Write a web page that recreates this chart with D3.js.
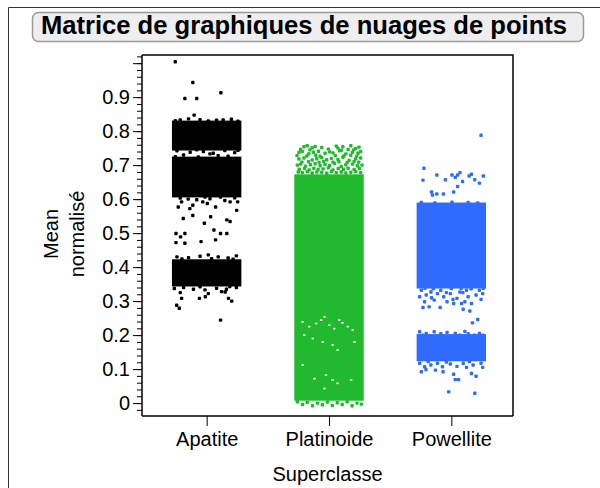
<!DOCTYPE html>
<html>
<head>
<meta charset="utf-8">
<script src="https://cdn.jsdelivr.net/npm/d3@7"></script>
<style>
  html, body { margin: 0; padding: 0; background: #fff; }
  svg { display: block; font-family: "Liberation Sans", Arial, sans-serif; }
</style>
</head>
<body>
<svg id="chart" width="600" height="488"></svg>
<script>
// ---------------- data ----------------
const categories = ["Apatite", "Platinoide", "Powellite"];
const yTickLabels = ["0", "0.1", "0.2", "0.3", "0.4", "0.5", "0.6", "0.7", "0.8", "0.9"];
const yMajorTicks = [0, 0.1, 0.2, 0.3, 0.4, 0.5, 0.6, 0.7, 0.8, 0.9, 1.0];
const title = "Matrice de graphiques de nuages de points";
const xTitle = "Superclasse";
const yTitle = ["Mean", "normalisé"];

// dense (saturated) value ranges per category: [low, high]
const apatiteBands = [[0.748, 0.826], [0.61, 0.72], [0.348, 0.418]];
const platinoideBands = [[0.012, 0.668]];
const powelliteBands = [[0.342, 0.585], [0.128, 0.198]];

// individual sparse points: [value, jitter (-1..1)]
const apatitePoints = [
  [1.004, -0.95], [0.943, -0.42], [0.913, 0.43], [0.896, -0.66], [0.896, -0.3], [0.847, -0.38],
  [0.833, -0.8], [0.834, -0.2], [0.832, 0.3], [0.835, 0.75], [0.831, -0.95], [0.836, -0.55],
  [0.830, 0.05], [0.833, 0.5], [0.829, 0.95],
  [0.742, -0.9], [0.738, -0.5], [0.740, -0.1], [0.735, 0.2], [0.743, 0.55], [0.737, 0.85],
  [0.730, -0.7], [0.728, 0.35], [0.733, 0.1], [0.745, -0.3], [0.744, 0.95],
  [0.725, -0.95], [0.724, -0.25], [0.726, 0.65],
  [0.603, -0.8], [0.598, -0.3], [0.601, 0.1], [0.596, 0.55], [0.604, 0.85], [0.606, -0.05],
  [0.612, -0.96], [0.592, -0.76], [0.600, -0.56], [0.582, -0.42], [0.592, -0.12], [0.587, 0.02],
  [0.577, 0.27], [0.606, 0.42], [0.592, 0.71], [0.592, 0.94], [0.577, -0.86], [0.572, -0.51],
  [0.543, -0.71], [0.552, -0.42], [0.529, -0.07], [0.548, 0.12], [0.539, 0.61], [0.534, 0.71],
  [0.567, 0.91], [0.499, -0.93], [0.489, -0.79], [0.499, -0.66], [0.475, -0.17], [0.509, 0.22],
  [0.480, 0.27], [0.499, 0.42], [0.499, 0.61], [0.472, -0.93], [0.470, -0.66],
  [0.430, -0.9], [0.428, -0.55], [0.432, -0.2], [0.436, 0.05], [0.430, 0.35], [0.427, 0.65], [0.433, 0.9],
  [0.424, -0.75], [0.425, 0.15], [0.423, 0.8],
  [0.337, -0.98], [0.340, -0.7], [0.335, -0.4], [0.333, -0.05], [0.338, 0.3], [0.335, 0.6], [0.340, 0.9],
  [0.325, -0.8], [0.322, 0.05], [0.328, 0.45], [0.342, -0.2], [0.343, 0.7],
  [0.308, -0.76], [0.279, -0.83], [0.308, -0.22], [0.313, -0.04], [0.308, 0.66], [0.300, 0.76],
  [0.244, 0.42], [0.288, -0.91], [0.327, 0.56]
];
const platinoidePoints = [
  [0.754, -0.76], [0.757, -0.66], [0.751, -0.51], [0.755, -0.42], [0.752, -0.22], [0.756, 0.22],
  [0.750, 0.27], [0.754, 0.42], [0.757, 0.66], [0.749, 0.81], [0.753, 0.91],
  [0.746, -0.86], [0.745, -0.58], [0.747, -0.02], [0.744, 0.37], [0.746, 0.58], [0.745, 0.75],
  [0.737, -0.91], [0.740, -0.81], [0.734, -0.61], [0.738, -0.47], [0.741, -0.32], [0.735, -0.12],
  [0.739, 0.02], [0.736, 0.12], [0.742, 0.32], [0.733, 0.51], [0.738, 0.71], [0.735, 0.88], [0.740, 0.96],
  [0.728, -0.97], [0.727, -0.67], [0.729, -0.4], [0.726, -0.27], [0.728, 0.19], [0.727, 0.45],
  [0.729, 0.66], [0.726, 0.84],
  [0.718, -0.91], [0.721, -0.76], [0.715, -0.51], [0.719, -0.37], [0.722, -0.22], [0.716, -0.07],
  [0.720, 0.07], [0.717, 0.27], [0.723, 0.42], [0.714, 0.61], [0.719, 0.81], [0.721, 0.96],
  [0.709, -0.82], [0.710, -0.62], [0.708, -0.3], [0.711, -0.16], [0.709, 0.12], [0.710, 0.3],
  [0.708, 0.55], [0.711, 0.76], [0.709, 0.9],
  [0.700, -0.96], [0.703, -0.86], [0.697, -0.71], [0.701, -0.56], [0.704, -0.42], [0.698, -0.27],
  [0.702, -0.12], [0.699, 0.02], [0.705, 0.17], [0.696, 0.37], [0.701, 0.51], [0.703, 0.71],
  [0.698, 0.86], [0.700, 1.0],
  [0.688, -0.9], [0.690, -0.74], [0.686, -0.6], [0.691, -0.46], [0.687, -0.33], [0.689, -0.18],
  [0.692, -0.02], [0.686, 0.12], [0.690, 0.28], [0.688, 0.44], [0.691, 0.58], [0.687, 0.76], [0.690, 0.92],
  [0.680, -0.93], [0.678, -0.81], [0.681, -0.66], [0.677, -0.51], [0.680, -0.37], [0.679, -0.22],
  [0.676, -0.07], [0.681, 0.07], [0.678, 0.22], [0.680, 0.37], [0.677, 0.51], [0.679, 0.66],
  [0.681, 0.81], [0.678, 0.96],
  [0.004, -0.96], [-0.004, -0.8], [0.002, -0.66], [-0.008, -0.5], [0.0, -0.35], [-0.005, -0.2],
  [0.003, -0.05], [-0.007, 0.1], [0.001, 0.25], [-0.004, 0.4], [0.004, 0.55], [-0.008, 0.7],
  [0.0, 0.85], [-0.003, 0.98]
];
// empty specks inside the dense Platinoide column: [value, jitter]
const platinoideGaps = [
  [0.239, -0.8], [0.225, -0.6], [0.234, -0.39], [0.244, -0.24], [0.254, -0.14], [0.229, 0.01],
  [0.219, 0.16], [0.244, 0.31], [0.236, 0.41], [0.225, 0.57], [0.215, 0.72], [0.200, -0.75],
  [0.190, -0.49], [0.180, -0.19], [0.171, 0.11], [0.156, 0.26], [0.180, 0.77], [0.112, -0.8],
  [0.072, -0.44], [0.082, -0.09], [0.068, 0.11], [0.068, 0.67], [0.043, -0.14], [0.058, 0.26]
];
const powellitePoints = [
  [0.788, 0.90], [0.691, -0.83], [0.656, -0.86], [0.671, -0.44], [0.657, -0.18], [0.671, 0.02],
  [0.664, 0.12], [0.671, 0.19], [0.678, 0.26], [0.652, 0.34], [0.637, 0.19], [0.668, 0.54],
  [0.673, 0.61], [0.657, 0.71], [0.647, 0.85], [0.668, 0.97],
  [0.621, -0.60], [0.612, -0.57], [0.615, -0.44], [0.615, -0.24], [0.621, 0.07],
  [0.590, -0.91], [0.589, -0.5], [0.591, 0.02], [0.590, 0.51], [0.589, 0.8],
  [0.332, -0.91], [0.318, -0.76], [0.327, -0.62], [0.303, -0.52], [0.313, -0.23], [0.322, -0.03],
  [0.308, 0.17], [0.327, 0.26], [0.298, 0.41], [0.313, 0.51], [0.293, 0.61], [0.318, 0.75],
  [0.305, 0.90], [0.298, -0.81], [0.332, -0.32], [0.293, 0.07], [0.332, 0.85], [0.313, -0.96],
  [0.298, -0.13], [0.293, 0.31], [0.332, 0.46], [0.322, 0.95], [0.322, -0.42],
  [0.336, -0.55], [0.337, 0.0], [0.336, 0.6], [0.325, -0.15], [0.325, 0.35], [0.310, -0.6],
  [0.305, 0.05], [0.338, -0.8], [0.338, 0.3], [0.338, 0.97],
  [0.281, -0.86], [0.283, -0.67], [0.281, -0.34], [0.276, 0.36], [0.271, 0.56], [0.236, 0.64], [0.246, 0.80],
  [0.210, -0.96], [0.205, -0.76], [0.210, -0.52], [0.204, -0.32], [0.208, -0.13], [0.205, 0.12],
  [0.211, 0.41], [0.204, 0.51], [0.205, 0.85], [0.200, 0.95], [0.200, -0.86], [0.200, 0.26], [0.200, 0.70],
  [0.117, -0.96], [0.107, -0.81], [0.112, -0.62], [0.117, -0.42], [0.107, -0.27], [0.115, -0.03],
  [0.108, 0.17], [0.117, 0.36], [0.105, 0.46], [0.112, 0.66], [0.117, 0.90], [0.105, 0.95],
  [0.122, -0.7], [0.121, -0.15], [0.122, 0.55],
  [0.092, -0.91], [0.099, -0.77], [0.097, -0.48], [0.092, -0.25], [0.085, 0.07], [0.069, 0.12],
  [0.069, 0.22], [0.087, 0.61], [0.079, 0.75], [0.033, -0.08], [0.029, 0.71]
];

// ---------------- layout ----------------
const svg = d3.select("#chart");
const plot = { left: 142, right: 513, top: 55, bottom: 416 };
const colors = { Apatite: "#000000", Platinoide: "#21b92e", Powellite: "#2f6bff" };
const ptSize = 3.4;

const x = d3.scalePoint().domain(categories).range([145.5, 512.5]).padding(0.5);
const y = d3.scaleLinear().domain([-0.038, 1.024]).range([plot.bottom, plot.top]);
const jitterHalf = 33;

// outer frame lines
svg.append("line").attr("x1", 8.5).attr("x2", 8.5).attr("y1", 7.5).attr("y2", 488).attr("stroke", "#333").attr("stroke-width", 1);
svg.append("line").attr("x1", 8.5).attr("x2", 600).attr("y1", 7.5).attr("y2", 7.5).attr("stroke", "#333").attr("stroke-width", 1);

// title box
svg.append("rect").attr("x", 32.5).attr("y", 12.5).attr("width", 551).attr("height", 29)
  .attr("rx", 6).attr("fill", "#eeeeee").attr("stroke", "#9a9a9a").attr("stroke-width", 1.5);
svg.append("text").attr("x", 304).attr("y", 34).attr("text-anchor", "middle")
  .attr("font-size", 25.6).attr("font-weight", "bold").attr("fill", "#000").text(title);

// plot frame (top & right)
svg.append("path")
  .attr("d", `M${plot.left},${plot.top}H${plot.right}V${plot.bottom}`)
  .attr("fill", "none").attr("stroke", "#000").attr("stroke-width", 1.5);

// data marks
const g = svg.append("g");
const bandSets = { Apatite: apatiteBands, Platinoide: platinoideBands, Powellite: powelliteBands };
const pointSets = { Apatite: apatitePoints, Platinoide: platinoidePoints, Powellite: powellitePoints };
categories.forEach(c => {
  g.selectAll(null).data(bandSets[c]).join("rect")
    .attr("x", x(c) - jitterHalf - ptSize / 2)
    .attr("width", 2 * jitterHalf + ptSize)
    .attr("y", d => y(d[1]) - ptSize / 2)
    .attr("height", d => y(d[0]) - y(d[1]) + ptSize)
    .attr("fill", colors[c]);
  g.selectAll(null).data(pointSets[c]).join("rect")
    .attr("x", d => x(c) + d[1] * jitterHalf - ptSize / 2)
    .attr("y", d => y(d[0]) - ptSize / 2)
    .attr("width", ptSize).attr("height", ptSize).attr("rx", 1)
    .attr("fill", colors[c]);
});
g.selectAll(null).data(platinoideGaps).join("rect")
  .attr("x", d => x("Platinoide") + d[1] * jitterHalf - 1.2)
  .attr("y", d => y(d[0]) - 0.8)
  .attr("width", 2.4).attr("height", 1.6)
  .attr("fill", "#ffffff");

// y axis: minor ticks
const minorTicks = d3.range(-1, 52).map(i => i * 0.02).filter(v => v >= -0.03 && v <= 1.021);
svg.append("g").attr("transform", `translate(${plot.left},0)`)
  .call(d3.axisLeft(y).tickValues(minorTicks).tickSize(5).tickFormat(""))
  .call(a => a.select(".domain").remove())
  .call(a => a.selectAll("line").attr("stroke", "#000").attr("stroke-width", 1));
// y axis: major ticks
svg.append("g").attr("transform", `translate(${plot.left},0)`)
  .call(d3.axisLeft(y).tickValues(yMajorTicks).tickSize(9).tickPadding(3)
    .tickFormat((d, i) => yTickLabels[i] !== undefined ? yTickLabels[i] : ""))
  .call(a => a.select(".domain").attr("d", `M0,${plot.top}V${plot.bottom}`).attr("stroke", "#000").attr("stroke-width", 1.5))
  .call(a => a.selectAll("line").attr("stroke", "#000").attr("stroke-width", 1))
  .call(a => a.selectAll("text").attr("font-size", 20).attr("fill", "#000")
    .attr("font-family", "'Liberation Sans', Arial, sans-serif"));

// x axis
svg.append("g").attr("transform", `translate(0,${plot.bottom})`)
  .call(d3.axisBottom(x).tickSize(10).tickPadding(6))
  .call(a => a.select(".domain").attr("d", `M${plot.left},0H${plot.right}`).attr("stroke", "#000").attr("stroke-width", 1.5))
  .call(a => a.selectAll("line").attr("stroke", "#000").attr("stroke-width", 1))
  .call(a => a.selectAll("text").attr("font-size", 20).attr("fill", "#000")
    .attr("font-family", "'Liberation Sans', Arial, sans-serif"));

// axis titles
svg.append("text").attr("x", 327.5).attr("y", 481).attr("text-anchor", "middle")
  .attr("font-size", 20).attr("fill", "#000").text(xTitle);
const yt = svg.append("text").attr("transform", "translate(0,234) rotate(-90)")
  .attr("text-anchor", "middle").attr("font-size", 20).attr("fill", "#000");
yt.append("tspan").attr("x", 0).attr("y", 58).text(yTitle[0]);
yt.append("tspan").attr("x", 0).attr("y", 84).text(yTitle[1]);
</script>
</body>
</html>
